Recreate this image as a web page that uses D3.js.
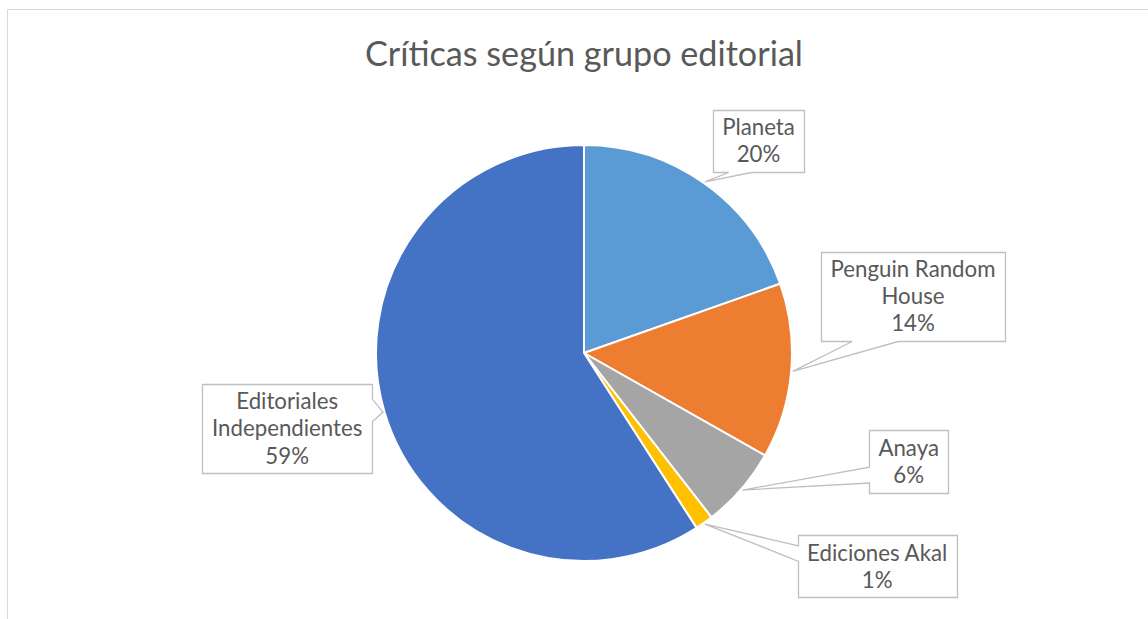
<!DOCTYPE html>
<html><head><meta charset="utf-8">
<script src="https://cdn.jsdelivr.net/npm/d3@7"></script>
<style>html,body{margin:0;padding:0;background:#fff;overflow:hidden}</style>
</head><body>
<svg id="c" width="1148" height="619"></svg>
<script>
const title = "Críticas según grupo editorial";
const categories = ["Planeta", "Penguin Random House", "Anaya", "Ediciones Akal", "Editoriales Independientes"];
const labelLines = [["Planeta"], ["Penguin Random", "House"], ["Anaya"], ["Ediciones Akal"], ["Editoriales", "Independientes"]];
const values = [19.6, 13.6, 6.3, 1.4, 59.1];
const colors = ["#5B9BD5", "#ED7D31", "#A5A5A5", "#FFC000", "#4472C4"];
// label box centres (layout)
const boxCenters = [[758.5, 141], [913, 296.5], [908.7, 461.5], [877.2, 566.3], [287.2, 428.7]];

const W = 1148, H = 619, cx = 584, cy = 353, R = 208;
const svg = d3.select("#c");
const FONT = "Lato, 'Open Sans', sans-serif";

// chart border
svg.append("path").attr("d", `M7.5,${H} V9.5 H${W}`).attr("fill", "none").attr("stroke", "#D9D9D9").attr("stroke-width", 1);

function fitSize(text, target, base) {
  const t = svg.append("text").attr("font-family", FONT).attr("font-size", base).text(text);
  const w = t.node().getComputedTextLength();
  t.remove();
  return base * target / w;
}
const titleSize = fitSize(title, 438, 32);
const labSize = fitSize("Penguin Random", 165, 24);
const lh = labSize * 1.22;

svg.append("text").attr("x", cx).attr("y", 66).attr("text-anchor", "middle")
  .attr("font-family", FONT).attr("font-size", titleSize).attr("fill", "#595959").text(title);

const total = d3.sum(values);
const pie = d3.pie().sort(null).value(d => d)(values);
const arc = d3.arc().innerRadius(0).outerRadius(R);
const g = svg.append("g").attr("transform", `translate(${cx},${cy})`);
g.selectAll("path").data(pie).join("path")
  .attr("d", arc).attr("fill", (d, i) => colors[i])
  .attr("stroke", "#fff").attr("stroke-width", 2).attr("stroke-linejoin", "round");

function calloutPath(x0, y0, x1, y1, tx, ty) {
  const w = x1 - x0, h = y1 - y0, mx = (x0 + x1) / 2, my = (y0 + y1) / 2;
  const dx = (tx - mx) / w, dy = (ty - my) / h;
  let side;
  if (Math.abs(dx) > Math.abs(dy)) side = dx < 0 ? "left" : "right";
  else side = dy < 0 ? "top" : "bottom";
  const fy = ty < my ? [2 / 12, 5 / 12] : [7 / 12, 10 / 12];
  const fx = tx < mx ? [2 / 12, 5 / 12] : [7 / 12, 10 / 12];
  let p = `M${x0},${y0}`;
  if (side === "top") p += ` L${x0 + w * fx[0]},${y0} L${tx},${ty} L${x0 + w * fx[1]},${y0}`;
  p += ` L${x1},${y0}`;
  if (side === "right") p += ` L${x1},${y0 + h * fy[0]} L${tx},${ty} L${x1},${y0 + h * fy[1]}`;
  p += ` L${x1},${y1}`;
  if (side === "bottom") p += ` L${x0 + w * fx[1]},${y1} L${tx},${ty} L${x0 + w * fx[0]},${y1}`;
  p += ` L${x0},${y1}`;
  if (side === "left") p += ` L${x0},${y0 + h * fy[1]} L${tx},${ty} L${x0},${y0 + h * fy[0]}`;
  return p + " Z";
}

pie.forEach((d, i) => {
  const lines = labelLines[i].concat([Math.round(d.value / total * 100) + "%"]);
  const tmp = svg.append("g");
  let maxW = 0;
  lines.forEach(l => {
    const t = tmp.append("text").attr("font-family", FONT).attr("font-size", labSize).text(l);
    maxW = Math.max(maxW, t.node().getComputedTextLength());
  });
  tmp.remove();
  const bw = maxW + 19, bh = lines.length * lh + 8;
  const [bx, by] = boxCenters[i];
  const x0 = bx - bw / 2, y0 = by - bh / 2;
  const mid = (d.startAngle + d.endAngle) / 2;
  const tip = [cx + (R + 1.5) * Math.sin(mid), cy - (R + 1.5) * Math.cos(mid)];
  const lg = svg.append("g");
  lg.append("path").attr("d", calloutPath(Math.round(x0) + 0.5, Math.round(y0) + 0.5, Math.round(x0 + bw) + 0.5, Math.round(y0 + bh) + 0.5, tip[0], tip[1]))
    .attr("fill", "#fff").attr("stroke", "#BFBFBF").attr("stroke-width", 1.3);
  lines.forEach((l, k) => {
    lg.append("text").attr("x", bx).attr("y", by + (k - (lines.length - 1) / 2) * lh + labSize * 0.35)
      .attr("text-anchor", "middle").attr("font-family", FONT).attr("font-size", labSize)
      .attr("fill", "#595959").text(l);
  });
});
</script>
</body></html>
